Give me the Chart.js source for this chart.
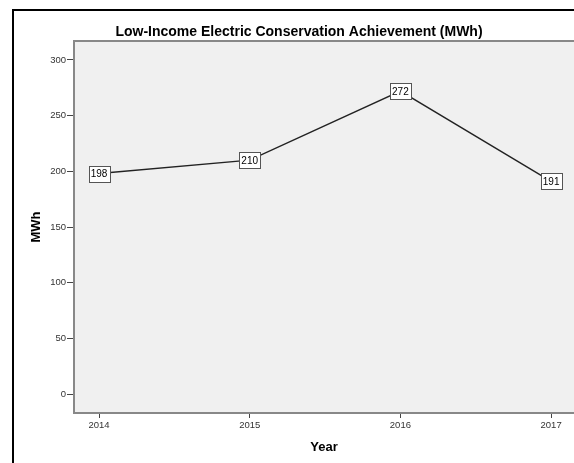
<!DOCTYPE html>
<html>
<head>
<meta charset="utf-8">
<script src="https://cdn.jsdelivr.net/npm/chart.js@4.4.0/dist/chart.umd.min.js"></script>
<style>
  html, body { margin: 0; padding: 0; background: #fff; overflow: hidden; }
  #chart { display: block; }
</style>
</head>
<body>
<canvas id="chart" width="574" height="463"></canvas>
<script>
// data
var years = [2014, 2015, 2016, 2017];
var mwh = [198, 210, 272, 191];
var yTicks = [0, 50, 100, 150, 200, 250, 300];
var chartTitle = 'Low-Income Electric Conservation Achievement (MWh)';
var xTitle = 'Year';
var yTitle = 'MWh';

var FONT = 'Arial, "Liberation Sans", sans-serif';

// frame, grey plot background and the plot border
var backdrop = {
  id: 'backdrop',
  beforeDraw: function(chart) {
    var ctx = chart.ctx, a = chart.chartArea;
    ctx.save();
    ctx.fillStyle = '#fff';
    ctx.fillRect(0, 0, chart.width, chart.height);
    ctx.strokeStyle = '#000';
    ctx.lineWidth = 2;
    ctx.strokeRect(13, 10, chart.width + 20, chart.height + 20);
    ctx.fillStyle = '#f0f0f0';
    ctx.fillRect(a.left, a.top, a.right - a.left, a.bottom - a.top);
    ctx.strokeStyle = '#888';
    ctx.lineWidth = 2;
    ctx.beginPath();
    ctx.moveTo(a.left, a.top);
    ctx.lineTo(a.right + 2, a.top);
    ctx.stroke();
    // chart title
    ctx.fillStyle = '#000';
    ctx.font = 'bold 14px ' + FONT;
    ctx.textAlign = 'center';
    ctx.textBaseline = 'middle';
    ctx.fillText(chartTitle, 299, 32);
    ctx.restore();
  }
};

// boxed value labels on each point
var boxLabels = {
  id: 'boxLabels',
  afterDatasetsDraw: function(chart) {
    var ctx = chart.ctx;
    var meta = chart.getDatasetMeta(0);
    ctx.save();
    ctx.font = '10px ' + FONT;
    ctx.textAlign = 'center';
    ctx.textBaseline = 'middle';
    meta.data.forEach(function(pt, i) {
      var w = 21, h = 16;
      var x = Math.round(pt.x - w / 2) + 0.5, y = Math.round(pt.y - h / 2) + 0.5;
      ctx.fillStyle = '#fff';
      ctx.fillRect(x, y, w, h);
      ctx.strokeStyle = '#555';
      ctx.lineWidth = 1;
      ctx.strokeRect(x, y, w, h);
      ctx.fillStyle = '#000';
      ctx.fillText(String(mwh[i]), pt.x, pt.y + 1);
    });
    ctx.restore();
  }
};

var points = years.map(function(y, i) { return { x: y, y: mwh[i] }; });

new Chart(document.getElementById('chart'), {
  type: 'line',
  data: {
    datasets: [{
      data: points,
      borderColor: '#222',
      borderWidth: 1.4,
      tension: 0,
      pointRadius: 0,
      fill: false
    }]
  },
  options: {
    responsive: false,
    animation: false,
    devicePixelRatio: 1,
    layout: { padding: { top: 41, right: 0, left: 0, bottom: 0 } },
    plugins: {
      legend: { display: false },
      tooltip: { enabled: false },
      title: { display: false }
    },
    scales: {
      x: {
        type: 'linear',
        min: 2013.834,
        max: 2017.152,
        afterBuildTicks: function(scale) {
          scale.ticks = years.map(function(v) { return { value: v }; });
        },
        afterFit: function(scale) { scale.height = 50; },
        border: { display: true, color: '#888', width: 2 },
        grid: { drawOnChartArea: false, drawTicks: true, tickLength: 5, color: '#444', tickWidth: 1 },
        ticks: {
          padding: 2,
          color: '#333',
          font: { family: FONT, size: 9.5 },
          maxRotation: 0,
          callback: function(v) { return String(v); }
        },
        title: {
          display: true,
          text: xTitle,
          color: '#000',
          font: { family: FONT, size: 13, weight: 'bold', lineHeight: 1.2 },
          padding: { top: 0, bottom: 8 }
        }
      },
      y: {
        type: 'linear',
        min: -17,
        max: 317,
        afterBuildTicks: function(scale) {
          scale.ticks = yTicks.map(function(v) { return { value: v }; });
        },
        afterFit: function(scale) { scale.width = 74; },
        border: { display: true, color: '#888', width: 2 },
        grid: { drawOnChartArea: false, drawTicks: true, tickLength: 7, color: '#444', tickWidth: 1 },
        ticks: {
          padding: 1,
          color: '#333',
          font: { family: FONT, size: 9.5 }
        },
        title: {
          display: true,
          text: yTitle,
          color: '#000',
          font: { family: FONT, size: 13, weight: 'bold', lineHeight: 1.2 },
          padding: { top: 29, bottom: 0 }
        }
      }
    }
  },
  plugins: [backdrop, boxLabels]
});
</script>
</body>
</html>
